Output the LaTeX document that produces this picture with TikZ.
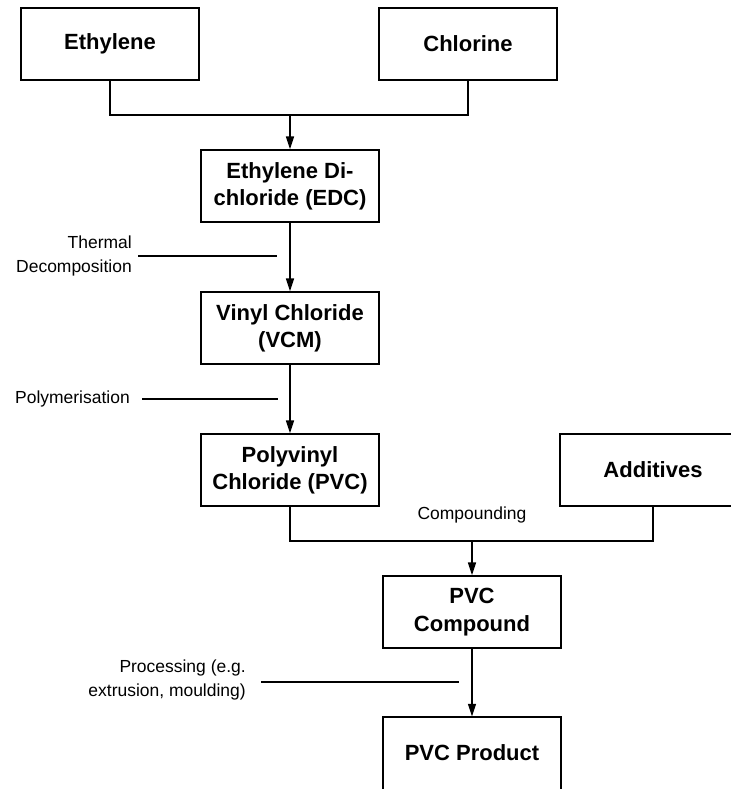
\documentclass[tikz,border=0pt]{standalone}
\usepackage{fontspec}
\setmainfont{Liberation Sans}
\usepackage{tikz}
\usetikzlibrary{arrows.meta,positioning}

\begin{document}
\begin{tikzpicture}[x=0.75pt,y=0.75pt,yscale=-1,xscale=1,
  box/.style={draw,line width=1.3pt,rectangle,minimum width=134pt,minimum height=54pt,
    align=center,font=\bfseries\fontsize{16.5pt}{20.5pt}\selectfont},
  lbl/.style={align=right,inner sep=4.5pt,font=\fontsize{13.1pt}{18pt}\selectfont},
  line/.style={line width=1.1pt},
  arr/.style={line width=1.1pt,-{Triangle[length=9.5pt,width=6pt]}}]
\useasboundingbox (0,0) rectangle (731,789);
\clip (0,0) rectangle (731,789);

%Boxes
\node[box] (eth) at (110,44) {Ethylene};
\node[box] (chl) at (468,44) {Chlorine};
\node[box] (edc) at (290,186) {Ethylene Di-\\chloride (EDC)};
\node[box] (vcm) at (290,328) {Vinyl Chloride\\(VCM)};
\node[box] (pvc) at (290,470) {Polyvinyl\\Chloride (PVC)};
\node[box,minimum width=140pt] (add) at (653,470) {Additives};
\node[box] (cmp) at (472,612) {PVC\\Compound};
%open at the bottom
\node[box,anchor=base,inner ysep=0pt,text height=32pt,text depth=36pt] (prd) at (472,760) {PVC Product};

%Side labels
\node[lbl,anchor=east] (thm) at (138,256) {Thermal\\Decomposition};
\node[lbl,anchor=east] (pol) at (136,399) {Polymerisation};
\node[lbl,anchor=east] (pro) at (252,680) {Processing (e.g.\\extrusion, moulding)};
\node[lbl,align=center] (cpd) at (472,515) {Compounding};

\coordinate (j1) at (290,115);
\coordinate (j2) at (472,541);
\coordinate (thmend) at (277,256);
\coordinate (polend) at (278,399);
\coordinate (proend) at (459,682);

%Connectors
\draw[line] (eth.south) |- (j1) -| (chl.south);
\draw[arr] (j1) -- (edc);
\draw[arr] (edc) -- (vcm);
\draw[arr] (vcm) -- (pvc);
\draw[line] (pvc.south) |- (j2) -| (add.south);
\draw[arr] (j2) -- (cmp);
\draw[arr] (cmp) -- (prd.north);

\draw[line] (thm.east) -- (thmend);
\draw[line] ([xshift=4.5pt]pol.east) -- (polend);
\draw[line] ([xshift=6.75pt]pro.east |- proend) -- (proend);

\end{tikzpicture}
\end{document}
